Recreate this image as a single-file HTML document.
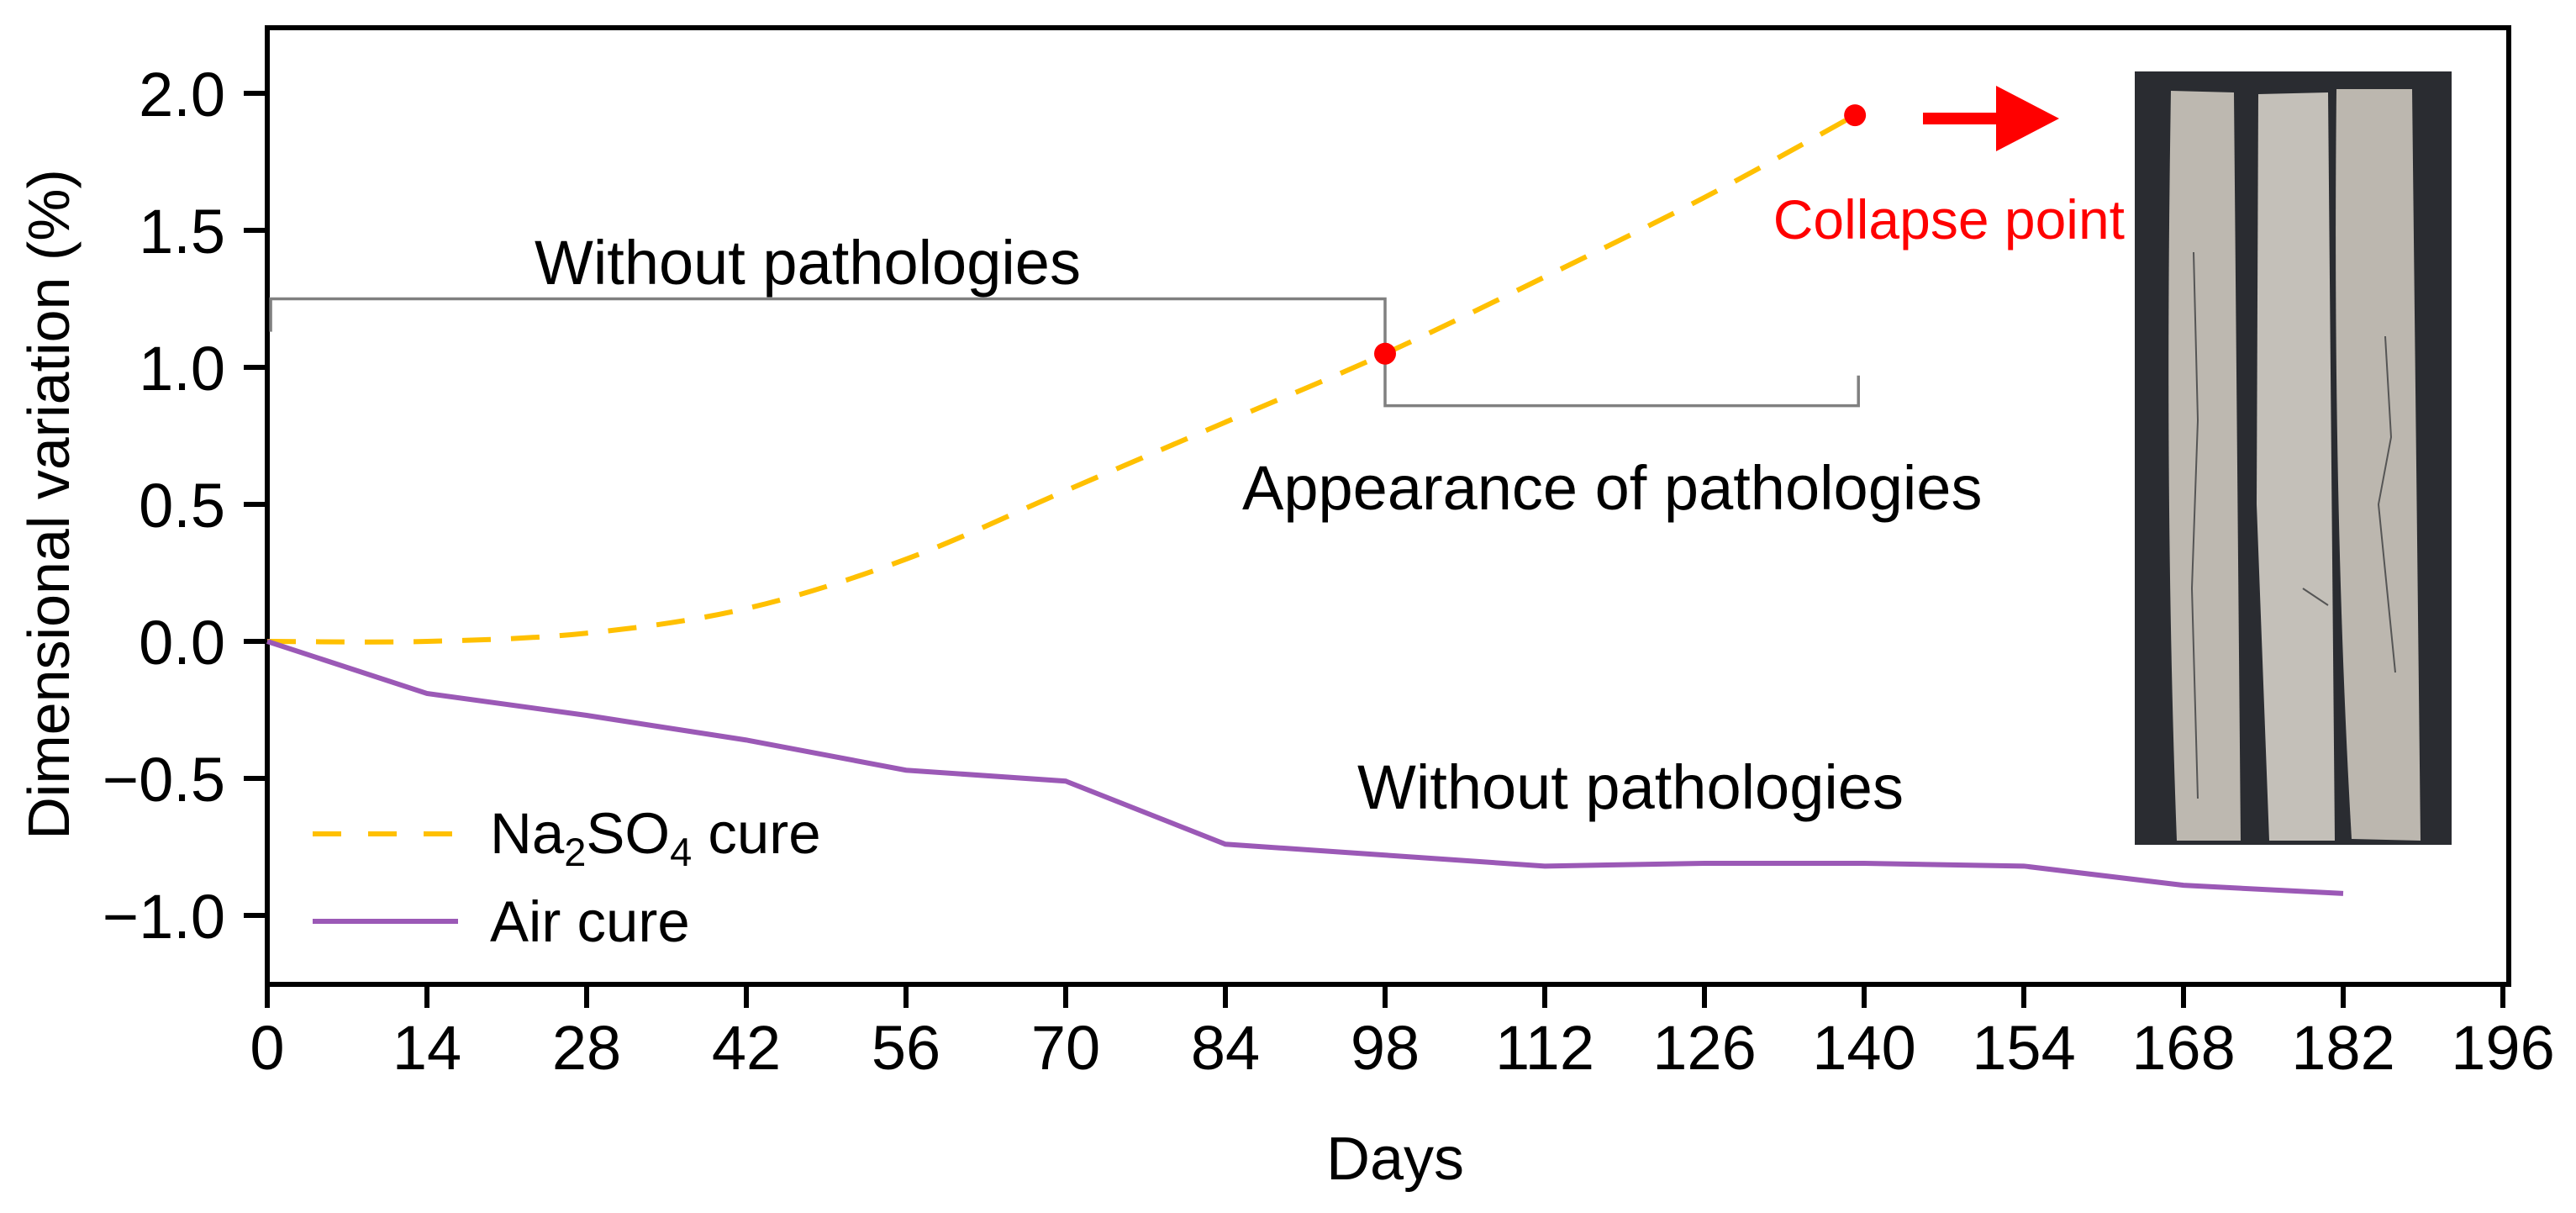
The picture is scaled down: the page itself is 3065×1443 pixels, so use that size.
<!DOCTYPE html>
<html><head><meta charset="utf-8"><style>
html,body{margin:0;padding:0;background:#fff}
svg{display:block}
text{font-family:"Liberation Sans",Arial,sans-serif}
</style></head><body>
<svg id="chart" width="3065" height="1443" viewBox="0 0 3065 1443">
<g id="plot"></g>
</svg>
<script>
const days = [0,14,28,42,56,70,84,98,112,126,140,154,168,182];
const naDays = [0,14,28,42,56,70,84,98,112,126,139.2];
const naValues = [0,0.0,0.03,0.12,0.3,0.55,0.8,1.05,1.33,1.62,1.92];
const airValues = [0,-0.19,-0.27,-0.36,-0.47,-0.51,-0.74,-0.78,-0.82,-0.81,-0.81,-0.82,-0.89,-0.92];
const xTicks = [0,14,28,42,56,70,84,98,112,126,140,154,168,182,196];
const yTicks = [-1.0,-0.5,0.0,0.5,1.0,1.5,2.0];
const yTickLabels = ["\u22121.0","\u22120.5","0.0","0.5","1.0","1.5","2.0"];
const pathologyPoint = [98,1.05];
const collapsePoint = [139.2,1.92];

const X0=318, X1=2985, Y0=33, YB=1171;
const x = d => 318 + d*(2978-318)/196;
const y = v => 763 - v*326;
const NS="http://www.w3.org/2000/svg";
const g=document.getElementById('plot');
function el(tag,attrs,parent){const e=document.createElementNS(NS,tag);for(const k in attrs)e.setAttribute(k,attrs[k]);(parent||g).appendChild(e);return e;}
function smooth(pts){let d=`M${pts[0][0]},${pts[0][1]}`;for(let i=0;i<pts.length-1;i++){const p0=pts[Math.max(0,i-1)],p1=pts[i],p2=pts[i+1],p3=pts[Math.min(pts.length-1,i+2)];const c1=[p1[0]+(p2[0]-p0[0])/6,p1[1]+(p2[1]-p0[1])/6],c2=[p2[0]-(p3[0]-p1[0])/6,p2[1]-(p3[1]-p1[1])/6];d+=` C${c1[0]},${c1[1]} ${c2[0]},${c2[1]} ${p2[0]},${p2[1]}`;}return d;}

let e=el('rect',{x:X0,y:Y0,width:X1-X0,height:YB-Y0,fill:'none',stroke:'#000','stroke-width':6});



xTicks.forEach(t=>{
  let l=el('line',{x1:x(t),x2:x(t),y1:YB,y2:YB+28,stroke:'#000','stroke-width':6});
  
  
  let tx=el('text',{x:x(t),y:1272,'font-size':74,'text-anchor':'middle',fill:'#000'});
  tx.textContent=t;
  
  
});
yTicks.forEach((t,i)=>{
  let l=el('line',{x1:X0-28,x2:X0,y1:y(t),y2:y(t),stroke:'#000','stroke-width':6});
  
  
  let tx=el('text',{x:268,y:y(t)+27,'font-size':74,'text-anchor':'end',fill:'#000'});
  tx.textContent=yTickLabels[i];
  
  
});

e=el('path',{d:`M${x(0.3)},${y(1.13)} V${y(1.25)} H${x(98)} V${y(1.08)}`,fill:'none',stroke:'#808080','stroke-width':3.5});


e=el('path',{d:`M${x(98)},${y(1.02)} V${y(0.86)} H${x(139.5)} V${y(0.97)}`,fill:'none',stroke:'#808080','stroke-width':3.5});



e=el('path',{d:smooth(naDays.map((d,i)=>[x(d),y(naValues[i])])),fill:'none',stroke:'#FFC000','stroke-width':6,'stroke-dasharray':'34 24'});


e=el('polyline',{points:days.map((d,i)=>x(d)+','+y(airValues[i])).join(' '),fill:'none',stroke:'#9B59B6','stroke-width':6});



e=el('circle',{cx:x(pathologyPoint[0]),cy:y(pathologyPoint[1]),r:13,fill:'#FF0000'});


e=el('circle',{cx:x(collapsePoint[0]),cy:y(collapsePoint[1]),r:13,fill:'#FF0000'});


</script>
<svg width="3065" height="1443" viewBox="0 0 3065 1443" style="position:absolute;left:0;top:0">
<path d="M2288,134 H2375 V102 L2450,141 L2375,180 V148 H2288 Z" fill="#FF0000"/>
<text x="2528" y="284" font-size="66" fill="#FF0000" text-anchor="end">Collapse point</text>
<text x="636" y="338" font-size="74" fill="#000">Without pathologies</text>
<text x="1478" y="606" font-size="74" fill="#000">Appearance of pathologies</text>
<text x="1615" y="962" font-size="74" fill="#000">Without pathologies</text>
<g>
<line x1="372" y1="992" x2="545" y2="992" stroke="#FFC000" stroke-width="6" stroke-dasharray="34 32"/>
<text x="583" y="1015" font-size="69" fill="#000">Na<tspan font-size="47" dy="15">2</tspan><tspan dy="-15">SO</tspan><tspan font-size="47" dy="15">4</tspan><tspan dy="-15"> cure</tspan></text>
<line x1="372" y1="1096" x2="545" y2="1096" stroke="#9B59B6" stroke-width="6"/>
<text x="583" y="1120" font-size="69" fill="#000">Air cure</text>
</g>
<text transform="translate(82,600) rotate(-90)" font-size="70" text-anchor="middle" fill="#000">Dimensional variation (%)</text>
<text x="1660" y="1403" font-size="72" text-anchor="middle" fill="#000">Days</text>
<g>
<rect x="2540" y="85" width="377" height="920" fill="#2a2c31"/>
<path d="M2583,108 L2658,110 L2666,1000 L2590,1000 Q2575,600 2583,108 Z" fill="#bdb8b0"/>
<path d="M2687,112 L2770,110 L2778,1000 L2700,1000 L2685,600 Z" fill="#c4c0b9"/>
<path d="M2780,106 L2870,106 L2880,1000 L2798,998 Q2775,600 2780,106 Z" fill="#bcb7af"/>
<path d="M2610,300 L2615,500 L2608,700 L2615,950 M2740,700 L2770,720 M2838,400 L2845,520 L2830,600 L2850,800" stroke="#555" stroke-width="2" fill="none"/>
</g>
</svg>
</body></html>
